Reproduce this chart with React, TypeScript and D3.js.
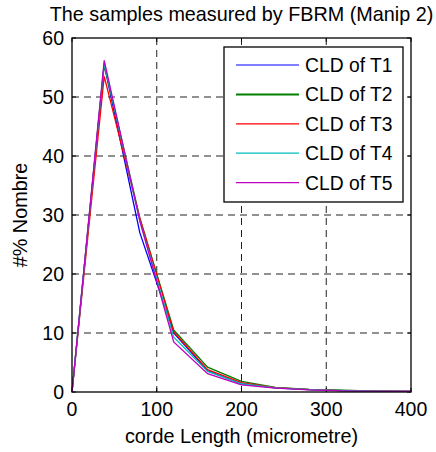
import React from "react";
import * as d3 from "d3";

const xValues = [0, 38, 80, 120, 160, 200, 240, 280, 320, 360, 400];
const seriesNames = ["CLD of T1", "CLD of T2", "CLD of T3", "CLD of T4", "CLD of T5"];
const seriesColors = ["#0000ff", "#008000", "#ff0000", "#00bfbf", "#bf00bf"];
const t1 = [0, 55.5, 27, 10, 3.6, 1.4, 0.7, 0.4, 0.25, 0.15, 0.1];
const t2 = [0, 55.5, 29.5, 10.5, 4.2, 1.8, 0.8, 0.45, 0.3, 0.15, 0.1];
const t3 = [0, 53.5, 29.5, 10.2, 3.8, 1.6, 0.75, 0.4, 0.25, 0.15, 0.1];
const t4 = [0, 55.8, 29, 9.3, 3.5, 1.4, 0.7, 0.4, 0.25, 0.15, 0.1];
const t5 = [0, 56.2, 29, 8.5, 3.1, 1.2, 0.65, 0.35, 0.2, 0.1, 0.1];
const seriesValues = [t1, t2, t3, t4, t5];
const xTicks = [0, 100, 200, 300, 400];
const yTicks = [0, 10, 20, 30, 40, 50, 60];
const title = "The samples measured by FBRM (Manip 2)";
const xLabel = "corde Length (micrometre)";
const yLabel = "#% Nombre";

const W = 436;
const H = 452;
const L = 72, R = 411, T = 38, B = 392;
const font = "'Liberation Sans', Arial, sans-serif";

export default function App() {
  const x = d3.scaleLinear().domain([0, 400]).range([L, R]);
  const y = d3.scaleLinear().domain([0, 60]).range([B, T]);
  const line = d3
    .line<number>()
    .x((_, i) => x(xValues[i]))
    .y((d) => y(d));

  const legX = 224, legY = 47, legW = 179, legH = 155;
  const rowY0 = 65, rowStep = 29.4;

  return (
    <svg
      width={W}
      height={H}
      style={{ position: "absolute", left: 0, top: 0, background: "#fff" }}
      fontFamily={font}
    >
      <rect x={0} y={0} width={W} height={H} fill="#fff" />
      {/* grid */}
      {xTicks.slice(1, -1).map((t) => (
        <line key={"gx" + t} x1={x(t)} x2={x(t)} y1={T} y2={B} stroke="#222" strokeDasharray="7,5" />
      ))}
      {yTicks.slice(1, -1).map((t) => (
        <line key={"gy" + t} x1={L} x2={R} y1={y(t)} y2={y(t)} stroke="#222" strokeDasharray="7,5" />
      ))}
      {/* ticks */}
      {xTicks.map((t) => (
        <g key={"tx" + t}>
          <line x1={x(t)} x2={x(t)} y1={B} y2={B - 4} stroke="#000" />
          <line x1={x(t)} x2={x(t)} y1={T} y2={T + 4} stroke="#000" />
          <text x={x(t)} y={416} fontSize={19.5} textAnchor="middle" fill="#000">
            {t}
          </text>
        </g>
      ))}
      {yTicks.map((t) => (
        <g key={"ty" + t}>
          <line x1={L} x2={L + 4} y1={y(t)} y2={y(t)} stroke="#000" />
          <line x1={R} x2={R - 4} y1={y(t)} y2={y(t)} stroke="#000" />
          <text x={64} y={y(t)} dy="0.36em" fontSize={19.5} textAnchor="end" fill="#000">
            {t}
          </text>
        </g>
      ))}
      {/* series */}
      {seriesValues.map((vals, i) => (
        <path key={"s" + i} d={line(vals) || ""} fill="none" stroke={seriesColors[i]} strokeWidth={1.3} />
      ))}
      {/* axes box */}
      <rect x={L} y={T} width={R - L} height={B - T} fill="none" stroke="#000" strokeWidth={1.3} />
      {/* legend */}
      <rect x={legX} y={legY} width={legW} height={legH} fill="#fff" stroke="#000" strokeWidth={1.3} />
      {seriesNames.map((n, i) => (
        <g key={"l" + i}>
          <line
            x1={236}
            x2={299}
            y1={rowY0 + i * rowStep}
            y2={rowY0 + i * rowStep}
            stroke={seriesColors[i]}
            strokeWidth={i === 1 ? 2 : 1.2}
          />
          <text x={305} y={rowY0 + i * rowStep} dy="0.36em" fontSize={19.3} fill="#000">
            {n}
          </text>
        </g>
      ))}
      {/* labels */}
      <text x={(L + R) / 2} y={21} fontSize={19.8} textAnchor="middle" fill="#000">
        {title}
      </text>
      <text x={(L + R) / 2} y={443} fontSize={19.8} textAnchor="middle" fill="#000">
        {xLabel}
      </text>
      <text
        transform={`translate(27,${(T + B) / 2}) rotate(-90)`}
        fontSize={19.8}
        textAnchor="middle"
        fill="#000"
      >
        {yLabel}
      </text>
    </svg>
  );
}
